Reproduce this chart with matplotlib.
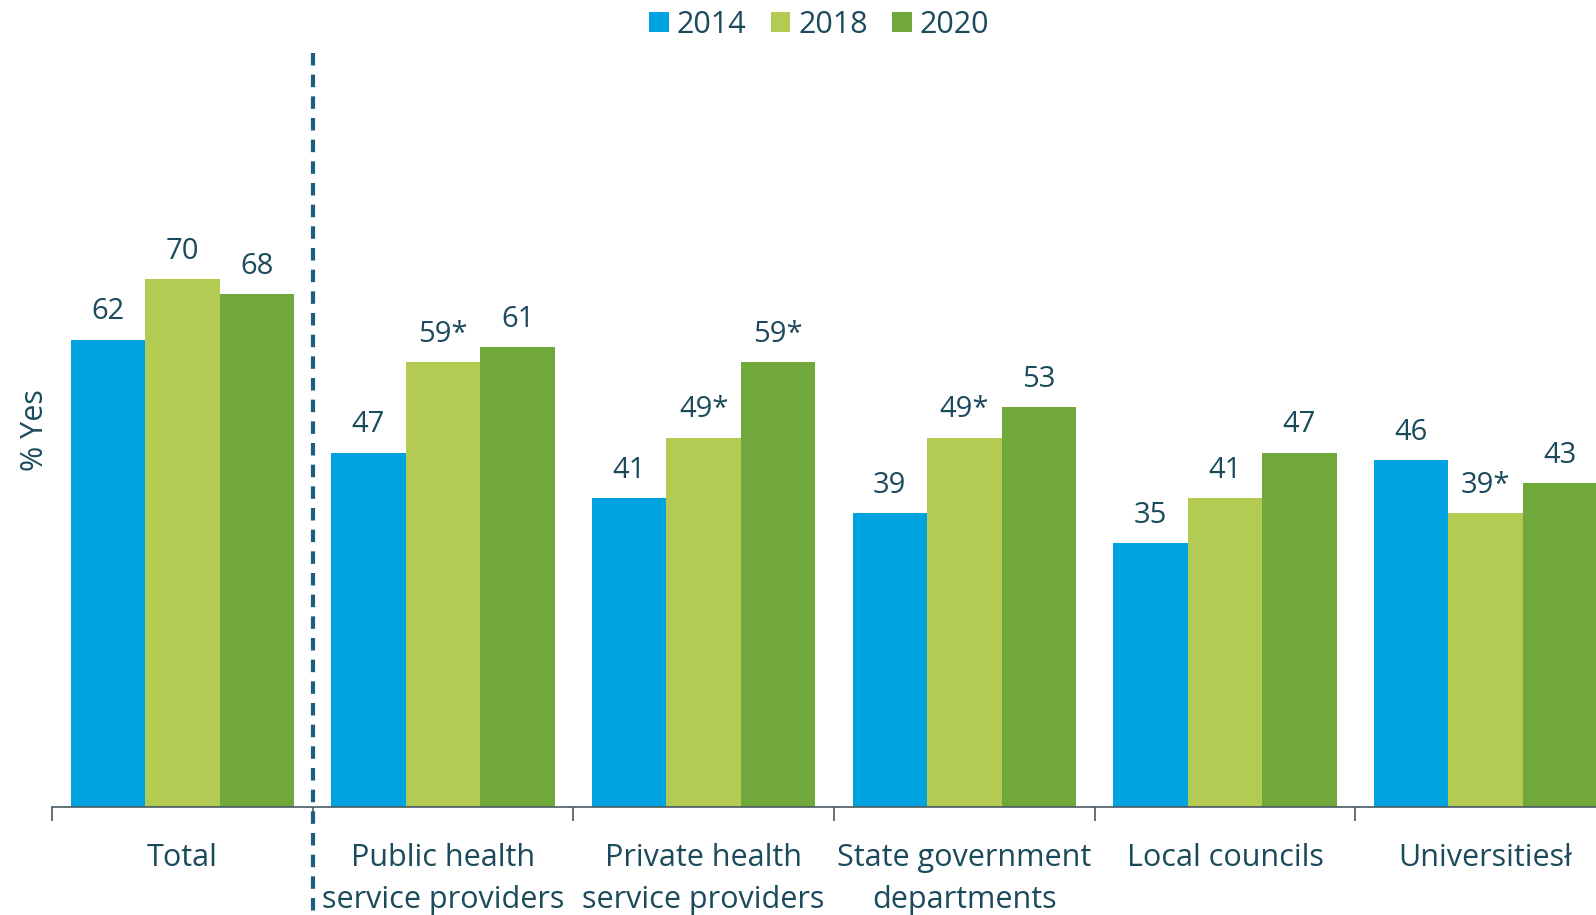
import numpy as np
import matplotlib.pyplot as plt

plt.rcParams['font.family'] = ['Open Sans', 'DejaVu Sans']

categories = ['Total', 'Public health\nservice providers', 'Private health\nservice providers',
              'State government\ndepartments', 'Local councils', 'Universitiesł']
years = ['2014', '2018', '2020']
v2014 = [62, 47, 41, 39, 35, 46]
v2018 = [70, 59, 49, 49, 41, 39]
v2020 = [68, 61, 59, 53, 47, 43]
lab2014 = ['62', '47', '41', '39', '35', '46']
lab2018 = ['70', '59*', '49*', '49*', '41', '39*']
lab2020 = ['68', '61', '59*', '53', '47', '43']

colors = ['#00A3E0', '#B3CB52', '#70A83B']
txt = '#1A4A5C'

fig = plt.figure(figsize=(15.96, 9.15), dpi=100)
ax = fig.add_axes([52/1596, 108/915, 1564/1596, 754/915])

x = np.arange(len(categories))
w = 0.286
for i, (vals, labs) in enumerate(zip([v2014, v2018, v2020], [lab2014, lab2018, lab2020])):
    bars = ax.bar(x + (i - 1) * w, vals, w, color=colors[i], label=years[i])
    for b, lab in zip(bars, labs):
        ax.annotate(lab, (b.get_x() + b.get_width() / 2, b.get_height()),
                    xytext=(0, 9.5), textcoords='offset points',
                    ha='center', va='bottom', fontsize=21, color=txt)

ax.set_xlim(-0.5, len(categories) - 0.5)
ax.set_ylim(0, 100)
ax.set_yticks([])
for s in ['top', 'right', 'left']:
    ax.spines[s].set_visible(False)
ax.spines['bottom'].set_color('#4A5A62')
ax.spines['bottom'].set_linewidth(1.2)

ax.set_xticks(x)
ax.set_xticklabels(categories, fontsize=22, color=txt, linespacing=1.5)
ax.tick_params(axis='x', which='major', length=0, pad=26)
ax.set_xticks(np.arange(len(categories) + 1) - 0.5, minor=True)
ax.tick_params(axis='x', which='minor', length=10, width=1.2, color='#4A5A62')

ax.set_ylabel('% Yes', fontsize=22, color=txt)
ax.yaxis.set_label_coords(-0.0015, 0.5)

ax.plot([0.5, 0.5], [1.0, -0.145], transform=ax.get_xaxis_transform(),
        color='#1B5E80', lw=3, ls=(0, (3, 2.2)), clip_on=False)

fig.legend(loc='center', bbox_to_anchor=(819/1596, 1 - 25/915), ncol=3, frameon=False,
           fontsize=22, labelcolor=txt, handlelength=0.65, handleheight=0.65,
           handletextpad=0.25, columnspacing=0.8)

fig.savefig('out.png', dpi=100)
